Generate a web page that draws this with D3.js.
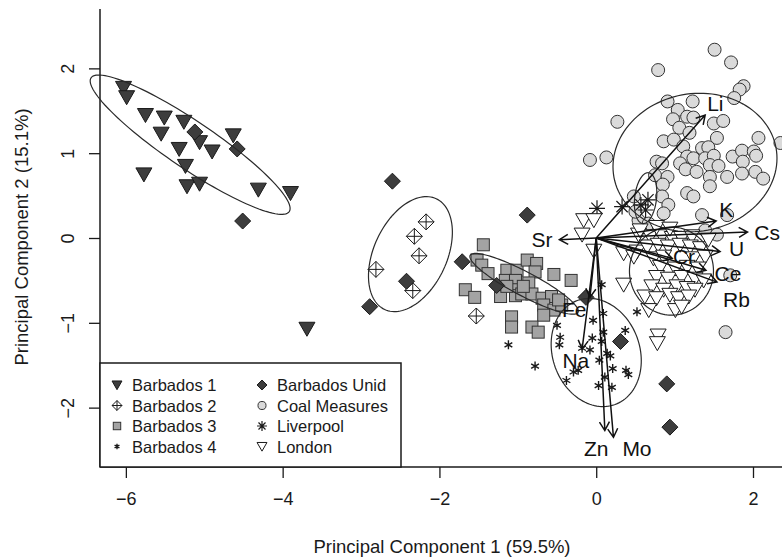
<!DOCTYPE html>
<html><head><meta charset="utf-8">
<script src="https://cdn.jsdelivr.net/npm/d3@7"></script>
<style>body{margin:0;background:#fff}svg{display:block;font-family:"Liberation Sans",Arial,Helvetica,sans-serif}</style>
</head><body><svg id="c" width="782" height="560"></svg>
<script>
const xTicks=[-6,-4,-2,0,2];
const yTicks=[-2,-1,0,1,2];
const xTitle="Principal Component 1 (59.5%)";
const yTitle="Principal Component 2 (15.1%)";
const groupNames=["Barbados 1","Barbados 2","Barbados 3","Barbados 4","Barbados Unid","Coal Measures","Liverpool","London"];

const barbados1=[[-6.03,1.77],[-5.99,1.66],[-5.75,1.45],[-5.51,1.42],[-5.26,1.37],[-5.55,1.23],[-5.06,1.13],[-5.32,1.05],[-4.90,1.02],[-4.63,1.21],[-5.24,0.85],[-5.77,0.75],[-5.22,0.61],[-5.06,0.64],[-4.31,0.57],[-3.90,0.53],[-3.69,-1.07]];
const barbados2=[[-2.17,0.19],[-2.32,0.02],[-2.26,-0.21],[-2.81,-0.37],[-2.34,-0.62],[-1.53,-0.92]];
const barbados3=[[-1.44,-0.08],[-1.52,-0.26],[-1.46,-0.32],[-1.38,-0.42],[-1.67,-0.61],[-1.55,-0.70],[-1.22,-0.69],[-1.14,-0.38],[-1.16,-0.50],[-1.01,-0.38],[-1.03,-0.50],[-0.88,-0.26],[-0.76,-0.30],[-0.78,-0.40],[-0.86,-0.53],[-1.01,-0.61],[-1.03,-0.68],[-0.95,-0.66],[-0.82,-0.66],[-0.69,-0.71],[-0.54,-0.43],[-0.32,-0.50],[-0.57,-0.69],[-0.67,-0.79],[-0.54,-0.85],[-0.44,-0.79],[-0.67,-0.91],[-1.08,-0.93],[-1.08,-1.05],[-0.82,-1.05],[-0.74,-1.11],[-0.48,-0.73],[-1.14,-0.57],[-0.93,-0.57]];
const barbados4=[[0.07,-0.55],[0.09,-0.89],[-0.04,-0.97],[0.37,-1.09],[-0.50,-1.03],[-0.46,-1.17],[-0.47,-1.26],[-0.05,-1.18],[0.09,-1.11],[0.07,-1.22],[-0.18,-1.30],[-0.08,-1.32],[0.14,-1.36],[0.18,-1.39],[0.04,-1.44],[0.21,-1.54],[0.38,-1.56],[0.41,-1.61],[-0.29,-1.58],[-0.23,-1.56],[0.11,-1.64],[-0.38,-1.68],[0.03,-1.74],[0.20,-1.76],[-1.12,-1.26],[-0.78,-1.51],[0.52,-0.87]];
const barbadosUnid=[[-5.12,1.25],[-4.58,1.05],[-4.51,0.20],[-2.60,0.67],[-1.71,-0.28],[-2.42,-0.51],[-2.89,-0.81],[-1.27,-0.56],[-0.88,0.27],[-0.13,-0.70],[0.31,-1.22],[0.90,-1.72],[0.94,-2.23]];
const coalMeasures=[[1.51,2.22],[1.72,2.07],[0.79,1.98],[1.88,1.79],[1.83,1.75],[1.76,1.65],[0.91,1.61],[1.23,1.61],[0.27,1.37],[1.04,1.51],[0.98,1.40],[1.16,1.43],[1.24,1.42],[1.50,1.35],[1.62,1.38],[1.06,1.30],[0.86,1.14],[0.99,1.16],[1.19,1.24],[1.54,1.18],[2.07,1.18],[2.35,1.12],[1.35,1.06],[1.43,1.07],[1.11,1.08],[-0.08,0.92],[0.13,0.95],[0.77,0.90],[0.84,0.88],[1.16,0.96],[1.24,0.94],[1.39,0.94],[1.50,0.97],[1.74,0.96],[1.86,1.03],[2.01,1.02],[2.04,0.97],[1.87,0.90],[1.07,0.88],[1.14,0.81],[1.28,0.78],[1.45,0.86],[1.56,0.85],[1.67,0.72],[1.86,0.76],[2.03,0.78],[2.13,0.70],[0.75,0.74],[0.91,0.72],[0.85,0.63],[1.45,0.72],[1.45,0.61],[1.16,0.53],[1.24,0.49],[0.84,0.49],[0.92,0.39],[1.35,0.27],[1.67,0.27],[1.39,0.09],[1.54,0.04],[1.71,-0.44],[1.65,-1.11],[0.54,0.21],[0.50,0.31],[0.86,0.29],[0.48,0.49],[0.67,0.17]];
const liverpool=[[0.01,0.35],[0.33,0.37],[0.57,0.39],[0.66,0.45],[0.63,0.33]];
const london=[[-0.16,0.21],[-0.03,0.21],[-0.18,0.04],[-0.03,-0.15],[0.35,-0.18],[0.52,-0.16],[0.54,0.04],[0.69,0.02],[0.84,0.02],[0.97,0.00],[1.09,0.00],[1.22,0.02],[0.65,-0.10],[0.79,-0.08],[0.92,-0.10],[1.07,-0.08],[1.20,-0.10],[1.33,-0.12],[0.73,-0.24],[0.86,-0.22],[1.24,-0.24],[1.39,-0.22],[0.82,-0.34],[1.01,-0.36],[1.16,-0.34],[1.30,-0.36],[0.77,-0.46],[0.92,-0.48],[1.09,-0.46],[1.26,-0.48],[1.37,-0.50],[0.35,-0.55],[0.71,-0.57],[0.86,-0.61],[1.03,-0.57],[1.16,-0.59],[1.26,-0.61],[0.62,-0.69],[0.77,-0.71],[0.94,-0.67],[1.05,-0.71],[1.18,-0.69],[0.67,-0.85],[1.01,-0.85],[1.09,-0.81],[0.79,-1.15],[0.78,-1.24],[0.48,-0.22],[0.56,0.09],[0.77,0.13],[0.94,0.11],[1.43,-0.02]];

// confidence ellipses: centre and two conjugate semi-axis vectors (data units)
const ellCX=[-5.18,-2.37,-0.92,0.00,1.26,0.63,0.96];
const ellCY=[1.10,-0.19,-0.54,-1.35,0.89,0.47,-0.39];
const ellU=[[1.264,-0.789],[0.329,0.653],[0.688,-0.336],[-0.241,0.613],[1.046,0.05],[0.14,0.0],[0.536,0.0]];
const ellV=[[-0.168,-0.230],[0.422,-0.182],[-0.071,-0.125],[0.522,0.176],[0.0,0.815],[0.03,0.30],[0.0,0.519]];

// loadings (biplot arrows)
const loadNames=["Li","K","Cs","U","Cr","Ce","Rb","Sr","Fe","Na","Zn","Mo"];
const loadX=[1.39,1.53,1.93,1.58,0.97,1.40,1.54,-0.47,-0.08,-0.18,0.11,0.22];
const loadY=[1.45,0.20,0.07,-0.16,-0.24,-0.38,-0.52,-0.02,-0.70,-1.31,-2.27,-2.35];
const labX=[1.52,1.66,2.18,1.79,1.12,1.68,1.79,-0.69,-0.28,-0.26,0.00,0.52];
const labY=[1.59,0.34,0.07,-0.12,-0.22,-0.42,-0.73,-0.02,-0.84,-1.45,-2.48,-2.48];

const svg=d3.select("#c");
const x=d3.scaleLinear().domain([-6.33,2.37]).range([100,782]);
const y=d3.scaleLinear().domain([-2.7,2.7]).range([467,9]);
const ink="#1a1a1a";

// axes
const gx=svg.append("g").attr("transform","translate(0,467)")
  .call(d3.axisBottom(x).tickValues(xTicks).tickSize(11).tickPadding(14).tickFormat(d3.format("d")));
const gy=svg.append("g").attr("transform","translate(100,0)")
  .call(d3.axisLeft(y).tickValues(yTicks).tickSize(11).tickPadding(0).tickFormat(d3.format("d")));
[gx,gy].forEach(g=>{g.select(".domain").remove();g.selectAll(".tick line").attr("stroke",ink).attr("stroke-width",1.3);g.selectAll("text").attr("fill",ink).style("font-size","18px");});
gx.selectAll(".tick text").attr("dy","0.71em");
gy.selectAll(".tick text").attr("text-anchor","middle").attr("x",0).attr("dy",0)
  .attr("transform","translate(-32,0) rotate(-90)").attr("dominant-baseline","central");
svg.append("line").attr("x1",100).attr("x2",782).attr("y1",467).attr("y2",467).attr("stroke",ink).attr("stroke-width",1.5);
svg.append("line").attr("x1",100).attr("x2",100).attr("y1",9).attr("y2",467).attr("stroke",ink).attr("stroke-width",1.5);
svg.append("text").attr("x",442).attr("y",553).attr("text-anchor","middle").style("font-size","18.5px").attr("fill",ink).text(xTitle);
svg.append("text").attr("transform","translate(28,237) rotate(-90)").attr("text-anchor","middle").style("font-size","18.5px").attr("fill",ink).text(yTitle);

// symbol drawing
function sym(g,type,px,py,k){
  const s=k||1;
  if(type==="triF"||type==="triO"){
    g.append("path").attr("d",`M${px-8*s},${py-6.5*s}L${px+8*s},${py-6.5*s}L${px},${py+7.5*s}Z`)
     .attr("fill",type==="triF"?"#3d3d3d":"#fff").attr("stroke",ink).attr("stroke-width",1);
  } else if(type==="dia"){
    g.append("path").attr("d",`M${px},${py-8*s}L${px+8*s},${py}L${px},${py+8*s}L${px-8*s},${py}Z`)
     .attr("fill","#3d3d3d").attr("stroke",ink).attr("stroke-width",1);
  } else if(type==="diaPlus"){
    g.append("path").attr("d",`M${px},${py-8*s}L${px+8*s},${py}L${px},${py+8*s}L${px-8*s},${py}ZM${px},${py-8*s}V${py+8*s}M${px-8*s},${py}H${px+8*s}`)
     .attr("fill","#fff").attr("stroke",ink).attr("stroke-width",1);
  } else if(type==="sq"){
    g.append("rect").attr("x",px-6*s).attr("y",py-6*s).attr("width",12*s).attr("height",12*s)
     .attr("fill","#a3a3a3").attr("stroke","#333").attr("stroke-width",1);
  } else if(type==="circ"){
    g.append("circle").attr("cx",px).attr("cy",py).attr("r",6.5*s).attr("fill","#dadada").attr("stroke","#333").attr("stroke-width",1);
  } else if(type==="star"){
    let d="";for(let i=0;i<3;i++){const a=Math.PI/2+i*Math.PI/3;const dx=4.5*s*Math.cos(a),dy=4.5*s*Math.sin(a);d+=`M${px-dx},${py-dy}L${px+dx},${py+dy}`;}
    g.append("path").attr("d",d).attr("stroke",ink).attr("stroke-width",1.4).attr("fill","none");
  } else if(type==="aster"){
    const r=8*s,q=r*0.707;
    g.append("path").attr("d",`M${px-r},${py}H${px+r}M${px},${py-r}V${py+r}M${px-q},${py-q}L${px+q},${py+q}M${px-q},${py+q}L${px+q},${py-q}`)
     .attr("stroke",ink).attr("stroke-width",1.2).attr("fill","none");
  }
}
const series=[[barbados1,"triF"],[barbados2,"diaPlus"],[barbados3,"sq"],[barbados4,"star"],[barbadosUnid,"dia"],[coalMeasures,"circ"],[liverpool,"aster"],[london,"triO"]];
const pts=svg.append("g");
series.forEach(([arr,t])=>arr.forEach(d=>sym(pts,t,x(d[0]),y(d[1]))));

// ellipses
const eg=svg.append("g");
const line=d3.line().curve(d3.curveLinearClosed);
ellCX.forEach((cx,i)=>{
  const p=d3.range(0,120).map(j=>{const t=j/120*2*Math.PI;
    return [x(cx+ellU[i][0]*Math.cos(t)+ellV[i][0]*Math.sin(t)),y(ellCY[i]+ellU[i][1]*Math.cos(t)+ellV[i][1]*Math.sin(t))];});
  eg.append("path").attr("d",line(p)).attr("fill","none").attr("stroke","#2a2a2a").attr("stroke-width",1.2);
});

// arrows
const ag=svg.append("g");
loadNames.forEach((n,i)=>{
  const x0=x(0),y0=y(0),x1=x(loadX[i]),y1=y(loadY[i]);
  const ang=Math.atan2(y1-y0,x1-x0),L=10,w=Math.PI/6;
  ag.append("path").attr("d",`M${x0},${y0}L${x1},${y1}M${x1-L*Math.cos(ang-w)},${y1-L*Math.sin(ang-w)}L${x1},${y1}L${x1-L*Math.cos(ang+w)},${y1-L*Math.sin(ang+w)}`)
    .attr("fill","none").attr("stroke","#111").attr("stroke-width",1.5);
  ag.append("text").attr("x",x(labX[i])).attr("y",y(labY[i])).attr("text-anchor","middle").attr("dominant-baseline","central")
    .style("font-size","21px").attr("fill","#111").text(n);
});

// legend
const lg=svg.append("g");
lg.append("rect").attr("x",100).attr("y",363).attr("width",301).attr("height",104).attr("fill","#fff").attr("stroke",ink).attr("stroke-width",1.5);
const legT=["triF","diaPlus","sq","star","dia","circ","aster","triO"];
groupNames.forEach((n,i)=>{
  const col=Math.floor(i/4),row=i%4;
  const sx=col?262:117, ty=385+row*20.5;
  sym(lg,legT[i],sx,ty,0.62);
  lg.append("text").attr("x",sx+15).attr("y",ty).attr("dominant-baseline","central").style("font-size","16.5px").attr("fill",ink).text(n);
});
</script></body></html>
